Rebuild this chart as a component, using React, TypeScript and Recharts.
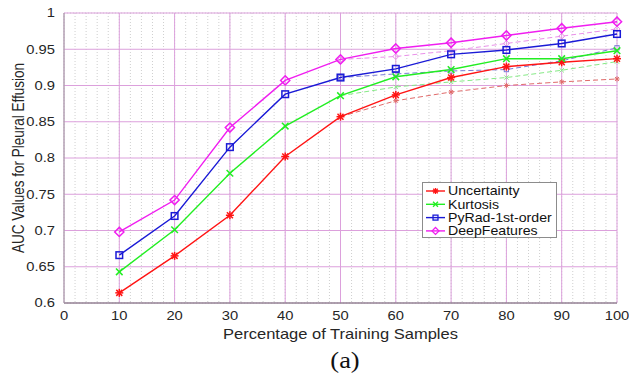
import React from "react";
import { ComposedChart, Line, XAxis, YAxis, CartesianGrid } from "recharts";

// ---- data ----
const X_VALUES = [10, 20, 30, 40, 50, 60, 70, 80, 90, 100];
const UNCERTAINTY = [0.614, 0.665, 0.721, 0.802, 0.857, 0.887, 0.911, 0.926, 0.932, 0.937];
const KURTOSIS = [0.643, 0.701, 0.779, 0.844, 0.886, 0.912, 0.922, 0.937, 0.937, 0.948];
const PYRAD = [0.666, 0.72, 0.815, 0.888, 0.911, 0.923, 0.943, 0.949, 0.958, 0.971];
const DEEP = [0.698, 0.742, 0.842, 0.907, 0.936, 0.951, 0.959, 0.969, 0.979, 0.988];

const DASH_X = [50, 60, 70, 80, 90, 100];
const UNCERTAINTY_DASH = [0.857, 0.879, 0.891, 0.9, 0.905, 0.909];
const KURTOSIS_DASH = [0.886, 0.898, 0.905, 0.911, 0.921, 0.933];
const PYRAD_DASH = [0.911, 0.916, 0.92, 0.922, 0.934, 0.952];
const DEEP_DASH = [0.936, 0.94, 0.948, 0.958, 0.968, 0.978];

const X_TICKS = [0, 10, 20, 30, 40, 50, 60, 70, 80, 90, 100];
const Y_TICKS = [0.6, 0.65, 0.7, 0.75, 0.8, 0.85, 0.9, 0.95, 1];
const X_MINOR = Array.from({ length: 51 }, (_, i) => i * 2);
const Y_MINOR = Array.from({ length: 41 }, (_, i) => Number((0.6 + i * 0.01).toFixed(2)));

const SERIES_NAMES = ["Uncertainty", "Kurtosis", "PyRad-1st-order", "DeepFeatures"];

const data = X_VALUES.map((x, i) => {
  const j = DASH_X.indexOf(x);
  return {
    x,
    u: UNCERTAINTY[i],
    k: KURTOSIS[i],
    p: PYRAD[i],
    d: DEEP[i],
    ud: j >= 0 ? UNCERTAINTY_DASH[j] : null,
    kd: j >= 0 ? KURTOSIS_DASH[j] : null,
    pd: j >= 0 ? PYRAD_DASH[j] : null,
    dd: j >= 0 ? DEEP_DASH[j] : null,
  };
});

// ---- styles ----
const FONT = "'Liberation Sans', Arial, Helvetica, sans-serif";
const SX = 1.18;
const stretch = (x: number) => `matrix(${SX} 0 0 1 ${-(SX - 1) * x} 0)`;

const COLORS = {
  u: "#ff1414",
  k: "#22ee22",
  p: "#1a1ad6",
  d: "#f01ef0",
};
const DASH_COLORS = {
  u: "#e06a6a",
  k: "#86ea86",
  p: "#7c7cd6",
  d: "#ea90ea",
};

type Kind = "u" | "k" | "p" | "d";

function markerShape(kind: Kind, cx: number, cy: number, color: string, s: number, sw: number) {
  if (kind === "u") {
    const r = 4 * s;
    const r2 = r * 0.75;
    return (
      <g stroke={color} strokeWidth={sw} fill="none">
        <line x1={cx - r} y1={cy} x2={cx + r} y2={cy} />
        <line x1={cx} y1={cy - r} x2={cx} y2={cy + r} />
        <line x1={cx - r2} y1={cy - r2} x2={cx + r2} y2={cy + r2} />
        <line x1={cx - r2} y1={cy + r2} x2={cx + r2} y2={cy - r2} />
      </g>
    );
  }
  if (kind === "k") {
    const r = 3.3 * s;
    return (
      <g stroke={color} strokeWidth={sw} fill="none">
        <line x1={cx - r} y1={cy - r} x2={cx + r} y2={cy + r} />
        <line x1={cx - r} y1={cy + r} x2={cx + r} y2={cy - r} />
      </g>
    );
  }
  if (kind === "p") {
    const r = 3.3 * s;
    return <rect x={cx - r} y={cy - r} width={2 * r} height={2 * r} stroke={color} strokeWidth={sw} fill="none" />;
  }
  const r = 4.6 * s;
  return (
    <path
      d={`M${cx},${cy - r} L${cx + r},${cy} L${cx},${cy + r} L${cx - r},${cy} Z`}
      stroke={color}
      strokeWidth={sw}
      fill="none"
    />
  );
}

const makeDot = (kind: Kind, color: string, s: number, sw: number) => (props: any) => {
  const { cx, cy, index, value } = props;
  const key = `${kind}-${s}-${index}`;
  if (cx == null || cy == null || value == null) return <g key={key} />;
  return <g key={key}>{markerShape(kind, cx, cy, color, s, sw)}</g>;
};

const YTick = (props: any) => {
  const { x, y, payload } = props;
  const label = String(Number(Number(payload.value).toFixed(2)));
  return (
    <text x={x} y={y} dy={4.5} textAnchor="end" fontSize={12.5} fontFamily={FONT} fill="#262626" transform={stretch(x)}>
      {label}
    </text>
  );
};

const XTick = (props: any) => {
  const { x, y, payload } = props;
  return (
    <text x={x} y={y} dy={17} textAnchor="middle" fontSize={12.5} fontFamily={FONT} fill="#262626" transform={stretch(x)}>
      {payload.value}
    </text>
  );
};

const XLabel = (props: any) => {
  const vb = props.viewBox || {};
  const cx = vb.x + vb.width / 2;
  const y = 339;
  return (
    <text x={cx} y={y} textAnchor="middle" fontSize={14} fontFamily={FONT} fill="#262626" transform={stretch(cx)}>
      Percentage of Training Samples
    </text>
  );
};

const YLabel = (props: any) => {
  const vb = props.viewBox || {};
  const cy = vb.y + vb.height / 2;
  return (
    <text
      x={0}
      y={0}
      textAnchor="middle"
      fontSize={13.5}
      fontFamily={FONT}
      fill="#262626"
      transform={`translate(24 ${cy}) scale(${SX} 1) rotate(-90)`}
    >
      AUC Values for Pleural Effusion
    </text>
  );
};

const KINDS: Kind[] = ["u", "k", "p", "d"];

function LegendBox() {
  const W = 135;
  const H = 56;
  return (
    <svg width={W} height={H} style={{ position: "absolute", left: 422, top: 182 }}>
      <rect x={0.5} y={0.5} width={W - 1} height={H - 1} fill="#ffffff" stroke="#8c8c8c" strokeWidth={1} />
      {KINDS.map((k, i) => {
        const cy = 9 + i * 13.3;
        return (
          <g key={k}>
            <line x1={4} y1={cy} x2={23} y2={cy} stroke={COLORS[k]} strokeWidth={1.4} />
            {markerShape(k, 13.5, cy, COLORS[k], 0.75, 1.3)}
            <text x={26} y={cy + 4.3} fontSize={12} fontFamily={FONT} fill="#111" transform={stretch(26)}>
              {SERIES_NAMES[i]}
            </text>
          </g>
        );
      })}
    </svg>
  );
}

export default function App() {
  return (
    <div style={{ position: "absolute", left: 0, top: 0, width: 629, height: 381, background: "#ffffff" }}>
      <ComposedChart width={629} height={381} data={data} margin={{ top: 13, right: 12, bottom: 48, left: 0 }}>
        <XAxis xAxisId="m" dataKey="x" type="number" domain={[0, 100]} ticks={X_MINOR} interval={0} hide />
        <YAxis yAxisId="m" type="number" domain={[0.6, 1]} ticks={Y_MINOR} interval={0} hide />
        <CartesianGrid xAxisId="m" yAxisId="m" stroke="#cfcfcf" strokeDasharray="1 2" strokeWidth={1} />
        <XAxis
          dataKey="x"
          type="number"
          domain={[0, 100]}
          ticks={X_TICKS}
          interval={0}
          height={30}
          tickSize={0}
          tickMargin={0}
          tick={<XTick />}
          axisLine={{ stroke: "#707070" }}
          label={<XLabel />}
        />
        <YAxis
          type="number"
          domain={[0.6, 1]}
          ticks={Y_TICKS}
          interval={0}
          width={64}
          tickSize={0}
          tickMargin={9}
          tick={<YTick />}
          axisLine={{ stroke: "#a0a0a0" }}
          label={<YLabel />}
        />
        <CartesianGrid stroke="#dca0dc" strokeWidth={1} />
        {KINDS.map((k) => (
          <Line
            key={`${k}d`}
            dataKey={`${k}d`}
            type="linear"
            stroke={DASH_COLORS[k]}
            strokeWidth={1}
            strokeDasharray="5 3"
            dot={makeDot(k, DASH_COLORS[k], 0.65, 1)}
            activeDot={false}
            isAnimationActive={false}
          />
        ))}
        {KINDS.map((k) => (
          <Line
            key={k}
            dataKey={k}
            type="linear"
            stroke={COLORS[k]}
            strokeWidth={1.4}
            dot={makeDot(k, COLORS[k], 1, 1.5)}
            activeDot={false}
            isAnimationActive={false}
          />
        ))}
      </ComposedChart>
      <LegendBox />
      <div
        style={{
          position: "absolute",
          left: 0,
          top: 348,
          width: 629,
          fontFamily: "'Liberation Serif', 'Times New Roman', serif",
          fontSize: 23,
          color: "#111",
        }}
      >
        <span style={{ position: "absolute", left: 345, transform: "translateX(-50%) scaleX(1.15)" }}>(a)</span>
      </div>
    </div>
  );
}
